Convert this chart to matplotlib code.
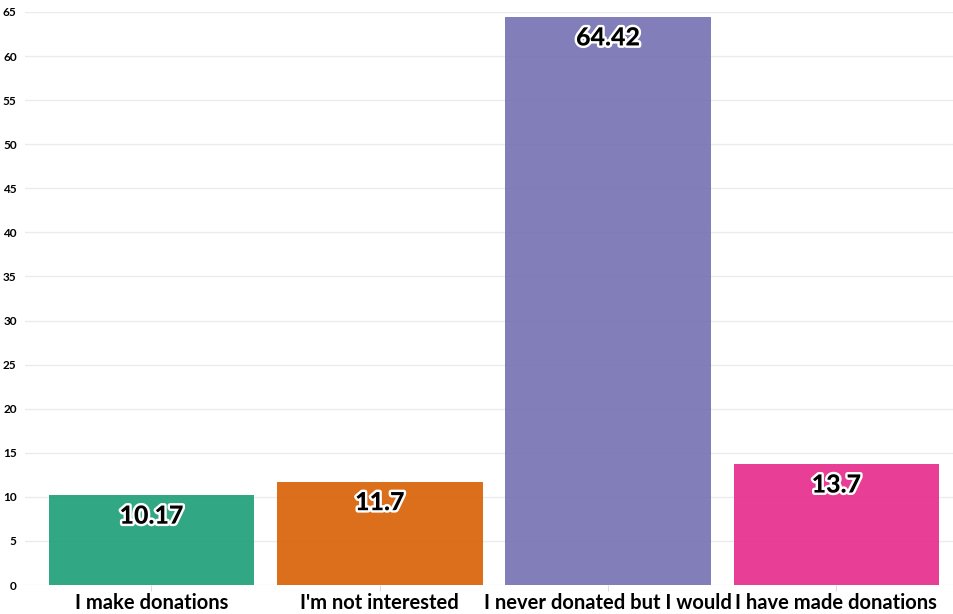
import matplotlib
matplotlib.use("Agg")
import matplotlib.pyplot as plt
import matplotlib.patheffects as pe

categories = ["I make donations", "I'm not interested", "I never donated but I would", "I have made donations"]
values = [10.17, 11.7, 64.42, 13.7]
colors = ["#1b9e77", "#d95f02", "#7570b3", "#e7298a"]
yticks = list(range(0, 66, 5))

plt.rcParams['font.family'] = ['Lato', 'DejaVu Sans']

fig = plt.figure(figsize=(9.54, 6.14), dpi=100)
ax = fig.add_axes([25/954, 29/614, 929/954, 573/614])

x = list(range(len(categories)))
bars = ax.bar(x, values, width=0.9, color=colors, alpha=0.9, zorder=2)

for xi, v in zip(x, values):
    ax.annotate(f"{v:g}", xy=(xi, v), xytext=(0, -15), textcoords="offset points",
                ha="center", va="center", fontsize=18, fontweight=900, color="black",
                path_effects=[pe.withStroke(linewidth=3.5, foreground="white")], zorder=3)

ax.set_xlim(-0.554, 3.515)
ax.set_ylim(0, 65)
ax.set_yticks(yticks)
ax.set_yticklabels([str(t) for t in yticks], fontsize=8.5, fontweight="bold")
ax.set_xticks(x)
ax.set_xticklabels(categories, fontsize=14.5, fontweight="bold")
ax.tick_params(axis="y", length=0, pad=6)
ax.tick_params(axis="x", length=4, color="#dddddd", pad=2)
ax.grid(axis="y", color="#ebebeb", linewidth=1, zorder=0)
ax.set_axisbelow(True)
for s in ax.spines.values():
    s.set_visible(False)

fig.savefig("out.png", dpi=100)
